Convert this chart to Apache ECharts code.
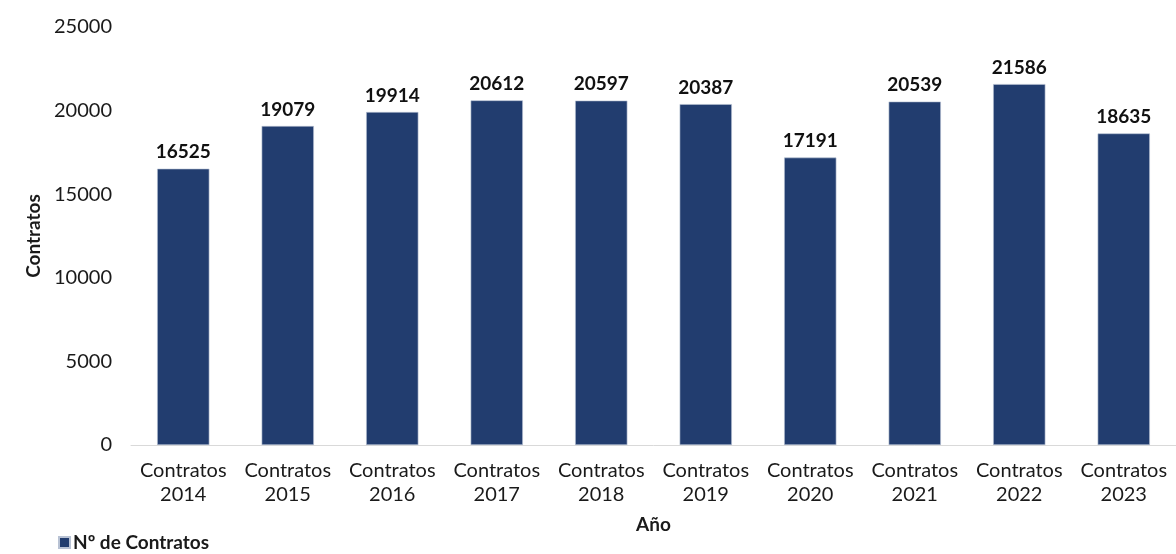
<!DOCTYPE html>
<html>
<head>
<meta charset="utf-8">
<script src="https://cdn.jsdelivr.net/npm/echarts@6/dist/echarts.min.js"></script>
<style>
  html, body { margin: 0; padding: 0; background: #fff; }
  #chart { width: 1176px; height: 554px; }
</style>
</head>
<body>
<div id="chart"></div>
<script>
const years = ["2014", "2015", "2016", "2017", "2018", "2019", "2020", "2021", "2022", "2023"];
const categories = years.map(y => "Contratos\n" + y);
const contratos = [16525, 19079, 19914, 20612, 20597, 20387, 17191, 20539, 21586, 18635];
const yTicks = { min: 0, max: 25000, interval: 5000 };

const chart = echarts.init(document.getElementById("chart"));
chart.setOption({
  textStyle: { fontFamily: "Lato" },
  animation: false,
  grid: { left: 131, right: -10, top: 27, bottom: 109 },
  legend: {
    left: 58,
    top: 533,
    padding: 0,
    itemWidth: 11,
    itemHeight: 11,
    itemGap: 4,
    icon: "rect",
    textStyle: { fontSize: 19, fontWeight: "bold", color: "#1a1a1a", fontFamily: "Lato", padding: [0, 0, 0, -2] },
    data: ["Nº de Contratos"],
  },
  xAxis: {
    type: "category",
    data: categories,
    name: "Año",
    nameLocation: "middle",
    nameGap: 70,
    nameTextStyle: { fontSize: 19, fontWeight: "bold", color: "#1a1a1a", fontFamily: "Lato" },
    axisLine: { lineStyle: { color: "#d9d9d9", width: 1 } },
    axisTick: { show: false },
    axisLabel: { fontSize: 20, color: "#1a1a1a", lineHeight: 24, margin: 14, interval: 0 },
  },
  yAxis: {
    type: "value",
    min: yTicks.min,
    max: yTicks.max,
    interval: yTicks.interval,
    name: "Contratos",
    nameLocation: "middle",
    nameGap: 86,
    nameRotate: 90,
    nameTextStyle: { fontSize: 19, fontWeight: "bold", color: "#1a1a1a", fontFamily: "Lato" },
    axisLine: { show: false },
    axisTick: { show: false },
    splitLine: { show: false },
    axisLabel: { fontSize: 20, color: "#1a1a1a", margin: 19, formatter: v => String(v) },
  },
  series: [
    {
      name: "Nº de Contratos",
      type: "bar",
      data: contratos,
      barWidth: "50%",
      itemStyle: { color: "#223d6f", borderColor: "#b8c2d4", borderWidth: 0.6 },
      label: {
        show: true,
        position: "top",
        distance: 7,
        fontSize: 19,
        fontWeight: "bold",
        color: "#111",
        fontFamily: "Lato",
      },
    },
  ],
});
</script>
</body>
</html>
